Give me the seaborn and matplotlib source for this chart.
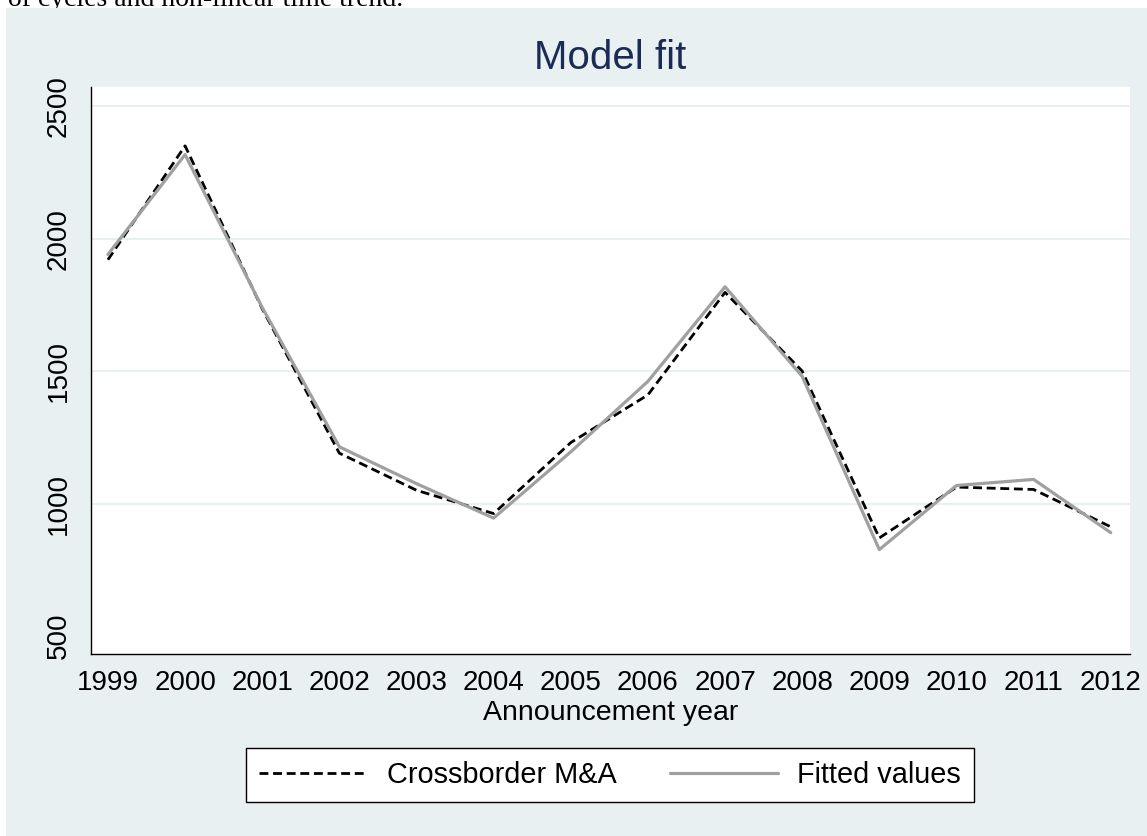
import matplotlib
matplotlib.use('Agg')
import matplotlib.pyplot as plt
import seaborn as sns
import pandas as pd
from matplotlib.patches import Rectangle

# values
years = list(range(1999, 2013))
crossborder = [1920, 2350, 1735, 1190, 1050, 962, 1230, 1410, 1797, 1500, 870, 1062, 1053, 912]
fitted = [1940, 2317, 1740, 1214, 1075, 945, 1195, 1461, 1818, 1480, 826, 1068, 1091, 890]
y_ticks = [500, 1000, 1500, 2000, 2500]
series_names = ['Crossborder M&A', 'Fitted values']

df = pd.DataFrame({
    'year': years * 2,
    'value': crossborder + fitted,
    'series': [series_names[0]] * len(years) + [series_names[1]] * len(years),
})

sns.set_style('white')
plt.rcParams['font.family'] = ['Liberation Sans', 'DejaVu Sans']
plt.rcParams['text.color'] = 'black'
plt.rcParams['axes.labelcolor'] = 'black'

bg = '#e8f0f2'

fig, ax = plt.subplots(figsize=(11.47, 8.36), dpi=100)
fig.patch.set_facecolor('white')
fig.subplots_adjust(left=0.0793, right=0.9852, top=0.8959, bottom=0.2177)

# stata style graph region, with the cut off line of text from the page above
fig.patches.append(Rectangle((6 / 1147, 0), 1, 1 - 8 / 836, transform=fig.transFigure,
                             facecolor=bg, edgecolor='none', zorder=-1))
fig.text(8 / 1147, 1 - 6 / 836, 'of cycles and non-linear time trend.', family='Liberation Serif',
         fontsize=20, va='baseline', ha='left', color='black', zorder=-2)

sub = df[df['series'] == series_names[0]]
sns.lineplot(ax=ax, data=sub, x='year', y='value', color='black', lw=2.0, label=series_names[0])
sub = df[df['series'] == series_names[1]]
sns.lineplot(ax=ax, data=sub, x='year', y='value', color='#a0a0a0', lw=2.3, label=series_names[1])
ax.lines[0].set_dashes((3.2, 1.7))

ax.set_xlim(1998.78, 2012.25)
ax.set_ylim(432, 2572)
ax.set_xticks(years)
ax.set_yticks(y_ticks)

ax.yaxis.grid(True, color=bg, linewidth=1.5)
ax.yaxis.get_gridlines()[0].set_visible(False)
ax.set_axisbelow(True)

for s in ['top', 'right']:
    ax.spines[s].set_visible(False)
for s in ['left', 'bottom']:
    ax.spines[s].set_color('black')
    ax.spines[s].set_linewidth(1.0)

ax.tick_params(axis='both', direction='out', length=8.5, width=1.0, color='black',
               labelsize=20, labelcolor='black')
ax.tick_params(axis='x', pad=3)
ax.tick_params(axis='y', pad=5.5, labelrotation=90)
for lbl in ax.get_yticklabels():
    lbl.set_va('center')

ax.set_xlabel('Announcement year', fontsize=20.5, labelpad=3, color='black')
ax.set_ylabel('')
ax.set_title('Model fit', fontsize=29, color='#1c2b55', pad=13)

leg = ax.legend(loc='center', bbox_to_anchor=(610 / 1147, 1 - 775 / 836), bbox_transform=fig.transFigure,
                ncol=2, fontsize=20.8, handlelength=3.74, handletextpad=0.68, columnspacing=1.85,
                borderpad=0.45, fancybox=False, framealpha=1, frameon=True)
leg.get_frame().set_edgecolor('black')
leg.get_frame().set_linewidth(1.0)
for t in leg.get_texts():
    t.set_color('black')

fig.savefig('out.png', dpi=100, facecolor=fig.get_facecolor())
